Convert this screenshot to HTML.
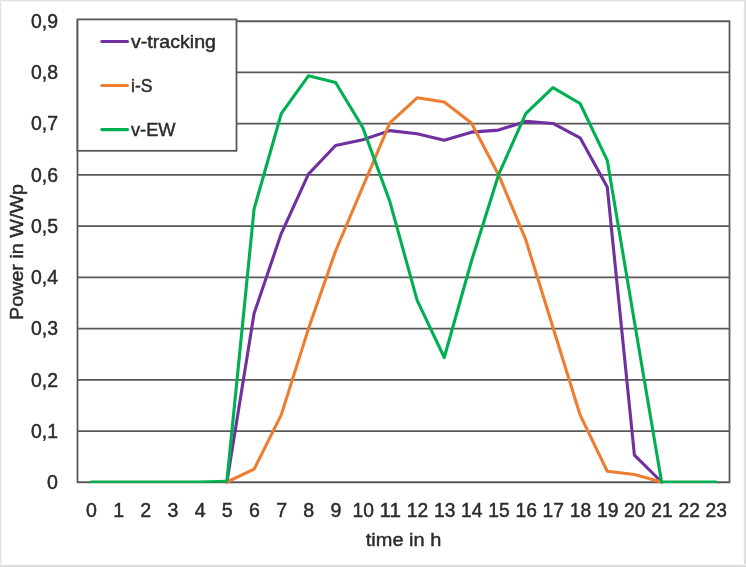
<!DOCTYPE html>
<html><head><meta charset="utf-8"><style>
html,body{margin:0;padding:0;background:#fff;}
body{width:746px;height:567px;overflow:hidden;}
svg{display:block;will-change:transform;}
</style></head><body>
<svg width="746" height="567" viewBox="0 0 746 567"><rect x="0" y="0" width="746" height="567" fill="#ffffff"/><rect x="0" y="0" width="746" height="1" fill="#e3e3e3"/><rect x="0" y="1" width="746" height="1" fill="#f7f7f7"/><rect x="0" y="0" width="1" height="567" fill="#e3e3e3"/><rect x="1" y="1" width="1" height="566" fill="#f7f7f7"/><rect x="743" y="0" width="1" height="567" fill="#fafafa"/><rect x="744" y="0" width="1" height="567" fill="#e4e4e4"/><rect x="745" y="0" width="1" height="567" fill="#d9d9d9"/><rect x="0" y="564" width="746" height="1" fill="#f6f6f6"/><rect x="0" y="565" width="746" height="1" fill="#e2e2e2"/><rect x="0" y="566" width="746" height="1" fill="#d9d9d9"/><rect x="0" y="0" width="745" height="1" fill="#e3e3e3"/><path d="M77.0,482.25H730.0M77.0,431.03H730.0M77.0,379.81H730.0M77.0,328.58H730.0M77.0,277.36H730.0M77.0,226.14H730.0M77.0,174.92H730.0M77.0,123.69H730.0M77.0,72.47H730.0M77.0,21.25H730.0M77.5,20.35V483.15M729.5,20.35V483.15" fill="none" stroke="#595959" stroke-width="1.8"/><polyline points="226.92,482.00 254.08,313.48 281.25,233.57 308.42,174.15 335.58,145.47 362.75,139.84 389.92,130.62 417.08,133.69 444.25,140.35 471.42,132.15 498.58,130.10 525.75,121.40 552.92,123.44 580.08,137.79 607.25,186.96 634.42,455.11 661.58,482.00" fill="none" stroke="#7030A0" stroke-width="3.1" stroke-linejoin="round" stroke-linecap="round"/><polyline points="226.92,482.00 254.08,469.19 281.25,414.90 308.42,328.85 335.58,250.99 362.75,186.96 389.92,122.93 417.08,97.83 444.25,101.93 471.42,122.93 498.58,174.67 525.75,239.72 552.92,327.31 580.08,414.90 607.25,471.24 634.42,474.57 661.58,482.00" fill="none" stroke="#ED7D31" stroke-width="3.1" stroke-linejoin="round" stroke-linecap="round"/><path d="M91.08,481.75H199.75L226.92,480.98M661.58,481.75H715.92" fill="none" stroke="#00B050" stroke-width="2.4" stroke-linecap="round" stroke-linejoin="round"/><polyline points="226.92,480.98 254.08,208.99 281.25,113.71 308.42,75.81 335.58,82.47 362.75,127.54 389.92,201.81 417.08,300.16 444.25,357.53 471.42,261.23 498.58,174.67 525.75,113.71 552.92,87.59 580.08,103.47 607.25,160.32 634.42,321.67 661.58,482.00" fill="none" stroke="#00B050" stroke-width="3.1" stroke-linejoin="round" stroke-linecap="round"/><g font-family='"Liberation Sans", sans-serif' fill="#2b2b2b" stroke="#2b2b2b" stroke-width="0.45"><g font-size="19.6"><text x="58.00" y="489.00" text-anchor="end">0</text></g><g font-size="19.6"><text x="58.00" y="437.78" text-anchor="end" textLength="27.0" lengthAdjust="spacingAndGlyphs">0,1</text></g><g font-size="19.6"><text x="58.00" y="386.56" text-anchor="end" textLength="27.0" lengthAdjust="spacingAndGlyphs">0,2</text></g><g font-size="19.6"><text x="58.00" y="335.33" text-anchor="end" textLength="27.0" lengthAdjust="spacingAndGlyphs">0,3</text></g><g font-size="19.6"><text x="58.00" y="284.11" text-anchor="end" textLength="27.0" lengthAdjust="spacingAndGlyphs">0,4</text></g><g font-size="19.6"><text x="58.00" y="232.89" text-anchor="end" textLength="27.0" lengthAdjust="spacingAndGlyphs">0,5</text></g><g font-size="19.6"><text x="58.00" y="181.67" text-anchor="end" textLength="27.0" lengthAdjust="spacingAndGlyphs">0,6</text></g><g font-size="19.6"><text x="58.00" y="130.44" text-anchor="end" textLength="27.0" lengthAdjust="spacingAndGlyphs">0,7</text></g><g font-size="19.6"><text x="58.00" y="79.22" text-anchor="end" textLength="27.0" lengthAdjust="spacingAndGlyphs">0,8</text></g><g font-size="19.6"><text x="58.00" y="28.00" text-anchor="end" textLength="27.0" lengthAdjust="spacingAndGlyphs">0,9</text></g><g font-size="19.6"><text x="91.48" y="516.60" text-anchor="middle">0</text></g><g font-size="19.6"><text x="118.65" y="516.60" text-anchor="middle">1</text></g><g font-size="19.6"><text x="145.82" y="516.60" text-anchor="middle">2</text></g><g font-size="19.6"><text x="172.98" y="516.60" text-anchor="middle">3</text></g><g font-size="19.6"><text x="200.15" y="516.60" text-anchor="middle">4</text></g><g font-size="19.6"><text x="227.32" y="516.60" text-anchor="middle">5</text></g><g font-size="19.6"><text x="254.48" y="516.60" text-anchor="middle">6</text></g><g font-size="19.6"><text x="281.65" y="516.60" text-anchor="middle">7</text></g><g font-size="19.6"><text x="308.82" y="516.60" text-anchor="middle">8</text></g><g font-size="19.6"><text x="335.98" y="516.60" text-anchor="middle">9</text></g><g font-size="19.6"><text x="363.15" y="516.60" text-anchor="middle" textLength="21.4" lengthAdjust="spacingAndGlyphs">10</text></g><g font-size="19.6"><text x="390.32" y="516.60" text-anchor="middle" textLength="21.4" lengthAdjust="spacingAndGlyphs">11</text></g><g font-size="19.6"><text x="417.48" y="516.60" text-anchor="middle" textLength="21.4" lengthAdjust="spacingAndGlyphs">12</text></g><g font-size="19.6"><text x="444.65" y="516.60" text-anchor="middle" textLength="21.4" lengthAdjust="spacingAndGlyphs">13</text></g><g font-size="19.6"><text x="471.82" y="516.60" text-anchor="middle" textLength="21.4" lengthAdjust="spacingAndGlyphs">14</text></g><g font-size="19.6"><text x="498.98" y="516.60" text-anchor="middle" textLength="21.4" lengthAdjust="spacingAndGlyphs">15</text></g><g font-size="19.6"><text x="526.15" y="516.60" text-anchor="middle" textLength="21.4" lengthAdjust="spacingAndGlyphs">16</text></g><g font-size="19.6"><text x="553.32" y="516.60" text-anchor="middle" textLength="21.4" lengthAdjust="spacingAndGlyphs">17</text></g><g font-size="19.6"><text x="580.48" y="516.60" text-anchor="middle" textLength="21.4" lengthAdjust="spacingAndGlyphs">18</text></g><g font-size="19.6"><text x="607.65" y="516.60" text-anchor="middle" textLength="21.4" lengthAdjust="spacingAndGlyphs">19</text></g><g font-size="19.6"><text x="634.82" y="516.60" text-anchor="middle" textLength="21.4" lengthAdjust="spacingAndGlyphs">20</text></g><g font-size="19.6"><text x="661.98" y="516.60" text-anchor="middle" textLength="21.4" lengthAdjust="spacingAndGlyphs">21</text></g><g font-size="19.6"><text x="689.15" y="516.60" text-anchor="middle" textLength="21.4" lengthAdjust="spacingAndGlyphs">22</text></g><g font-size="19.6"><text x="716.32" y="516.60" text-anchor="middle" textLength="21.4" lengthAdjust="spacingAndGlyphs">23</text></g><g font-size="19.2"><text x="403.50" y="546.40" text-anchor="middle" textLength="75.5" lengthAdjust="spacingAndGlyphs">time in h</text></g><g font-size="19.2" transform="translate(22.8,252.0) rotate(-90)"><text x="0.00" y="0.00" text-anchor="middle" textLength="136" lengthAdjust="spacingAndGlyphs">Power in W/Wp</text></g></g><rect x="77.5" y="19.4" width="159" height="131.4" fill="#ffffff" stroke="#595959" stroke-width="1.8"/><g font-family='"Liberation Sans", sans-serif' font-size="18.5" fill="#2b2b2b" stroke="#2b2b2b" stroke-width="0.45"><line x1="101.8" y1="41.50" x2="127.5" y2="41.50" stroke="#7030A0" stroke-width="3.1" stroke-linecap="round"/><text x="131.00" y="47.80" text-anchor="start" textLength="85" lengthAdjust="spacingAndGlyphs">v-tracking</text><line x1="101.8" y1="85.55" x2="127.5" y2="85.55" stroke="#ED7D31" stroke-width="3.1" stroke-linecap="round"/><text x="131.00" y="91.85" text-anchor="start" textLength="21.5" lengthAdjust="spacingAndGlyphs">i-S</text><line x1="101.8" y1="129.60" x2="127.5" y2="129.60" stroke="#00B050" stroke-width="3.1" stroke-linecap="round"/><text x="131.00" y="135.90" text-anchor="start" textLength="44.6" lengthAdjust="spacingAndGlyphs">v-EW</text></g></svg>
</body></html>
